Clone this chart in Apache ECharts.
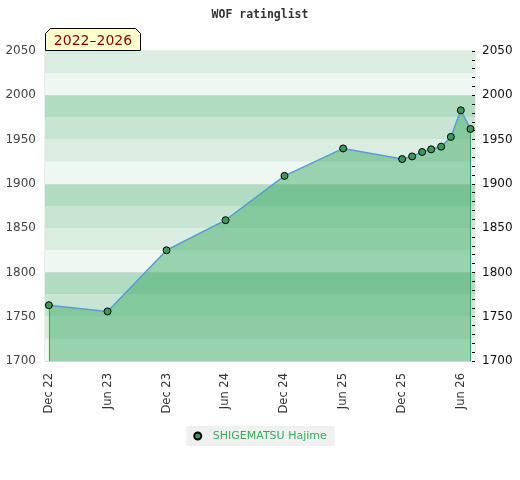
<!DOCTYPE html>
<html>
<head>
<meta charset="utf-8">
<script src="https://cdn.jsdelivr.net/npm/echarts@6/dist/echarts.min.js"></script>
<style>
  html, body { margin: 0; padding: 0; background: #fff; }
  #chart { width: 520px; height: 480px; }
</style>
</head>
<body>
<div id="chart"></div>
<script>
// rating list dates and ratings
const ratingDates = [
    '2022-12-01', '2023-06-01', '2023-12-01', '2024-06-01', '2024-12-01',
    '2025-06-01', '2025-12-01', '2026-01-01', '2026-02-01', '2026-03-01',
    '2026-04-01', '2026-05-01', '2026-06-01', '2026-07-01'
];
const ratings = [1763, 1756, 1825, 1859, 1909, 1940, 1928, 1931, 1936, 1939, 1942, 1953, 1983, 1962];

const xTickDates = ['2022-12-01', '2023-06-01', '2023-12-01', '2024-06-01',
    '2024-12-01', '2025-06-01', '2025-12-01', '2026-06-01'];
const monthNames = ['Jan', 'Feb', 'Mar', 'Apr', 'May', 'Jun', 'Jul', 'Aug', 'Sep', 'Oct', 'Nov', 'Dec'];

const playerName = 'SHIGEMATSU Hajime';
const periodText = '2022\u20132026';
const yMin = 1700;
const yMax = 2050;
const xMinDate = '2022-11-19';
const xMaxDate = '2026-07-15';

const bandColors = ['#eef7f1', '#dbede1', '#c8e5d3', '#b2dcc2'];

const ts = d => Date.parse(d + 'T00:00:00Z');

const myChart = echarts.init(document.getElementById('chart'));

const seriesData = ratingDates.map((d, i) => [ts(d), ratings[i]]);
const first = seriesData[0];
const last = seriesData[seriesData.length - 1];

const option = {
    animation: false,
    title: {
        text: 'WOF ratinglist',
        left: 'center',
        top: 4,
        textStyle: {
            fontFamily: 'DejaVu Sans Mono',
            fontSize: 11.5,
            fontWeight: 'bold',
            color: '#333'
        }
    },
    legend: {
        bottom: 34,
        left: 'center',
        backgroundColor: '#f0f0f0',
        padding: [4, 8, 4, 7],
        icon: 'circle',
        itemWidth: 20,
        itemHeight: 7,
        itemGap: 10,
        textStyle: { color: '#3aaa5a', fontSize: 11, fontFamily: 'DejaVu Sans', lineHeight: 12 },
        data: [playerName]
    },
    graphic: [{
        type: 'group',
        left: 45,
        top: 28,
        z: 10,
        children: [{
            type: 'polygon',
            shape: { points: [[0, 5], [5, 0], [90, 0], [95, 5], [95, 22], [0, 22]] },
            style: { fill: '#ffffcc', stroke: '#000', lineWidth: 1 }
        }, {
            type: 'text',
            x: 47.5,
            y: 12.5,
            style: {
                text: periodText,
                fill: '#8b0000',
                font: '14px "DejaVu Sans"',
                align: 'center',
                verticalAlign: 'middle'
            }
        }]
    }],
    grid: {
        left: 45,
        right: 45,
        top: 51,
        bottom: 119,
        show: true,
        borderColor: '#dddddd',
        borderWidth: 1,
        backgroundColor: 'transparent'
    },
    xAxis: {
        type: 'value',
        min: ts(xMinDate),
        max: ts(xMaxDate),
        axisLine: { show: false },
        axisTick: { show: false },
        splitLine: { show: false },
        axisLabel: {
            rotate: 90,
            margin: 12,
            color: '#333',
            fontSize: 11.5,
            fontFamily: 'DejaVu Sans',
            customValues: xTickDates.map(ts),
            formatter: function (value) {
                const d = new Date(value);
                return monthNames[d.getUTCMonth()] + ' ' + String(d.getUTCFullYear()).slice(2);
            }
        }
    },
    yAxis: [{
        type: 'value',
        position: 'left',
        min: yMin,
        max: yMax,
        interval: 50,
        axisLine: { show: false },
        axisTick: { show: false },
        splitLine: { show: false },
        axisLabel: {
            color: '#444', fontSize: 12, margin: 9, fontFamily: 'DejaVu Sans',
            formatter: v => String(v)
        }
    }, {
        type: 'value',
        position: 'right',
        min: yMin,
        max: yMax,
        interval: 10,
        axisLine: { show: false },
        axisTick: { show: true, inside: true, length: 3, lineStyle: { color: '#000' } },
        splitLine: { show: false },
        axisLabel: {
            color: '#111',
            fontSize: 12,
            margin: 7,
            fontFamily: 'DejaVu Sans',
            formatter: v => (v % 50 === 0 ? String(v) : '')
        }
    }, {
        // background bands
        type: 'value',
        position: 'left',
        min: yMin,
        max: yMax,
        interval: 25,
        axisLine: { show: false },
        axisTick: { show: false },
        axisLabel: { show: false },
        splitArea: { show: true, areaStyle: { color: bandColors } },
        splitLine: {
            show: true,
            lineStyle: { color: ['#d6d6d6', 'transparent', 'transparent', 'transparent'], width: 1 }
        }
    }],
    series: [{
        name: playerName,
        type: 'line',
        yAxisIndex: 0,
        data: seriesData,
        symbol: 'circle',
        symbolSize: 7,
        z: 5,
        itemStyle: { color: '#3a9a5a', borderColor: '#000', borderWidth: 1 },
        lineStyle: { color: '#5b9bd5', width: 1.5 },
        areaStyle: { color: 'rgba(56,168,98,0.47)', opacity: 1, origin: 'start' },
        markLine: {
            silent: true,
            symbol: ['none', 'none'],
            label: { show: false },
            lineStyle: { color: '#33a055', width: 1, type: 'solid' },
            data: [
                [{ coord: [first[0], first[1]] }, { coord: [first[0], yMin] }],
                [{ coord: [last[0], last[1]] }, { coord: [last[0], yMin] }]
            ]
        }
    }]
};

myChart.setOption(option);

window.addEventListener('resize', () => {
    myChart.resize();
});
</script>
</body>
</html>
